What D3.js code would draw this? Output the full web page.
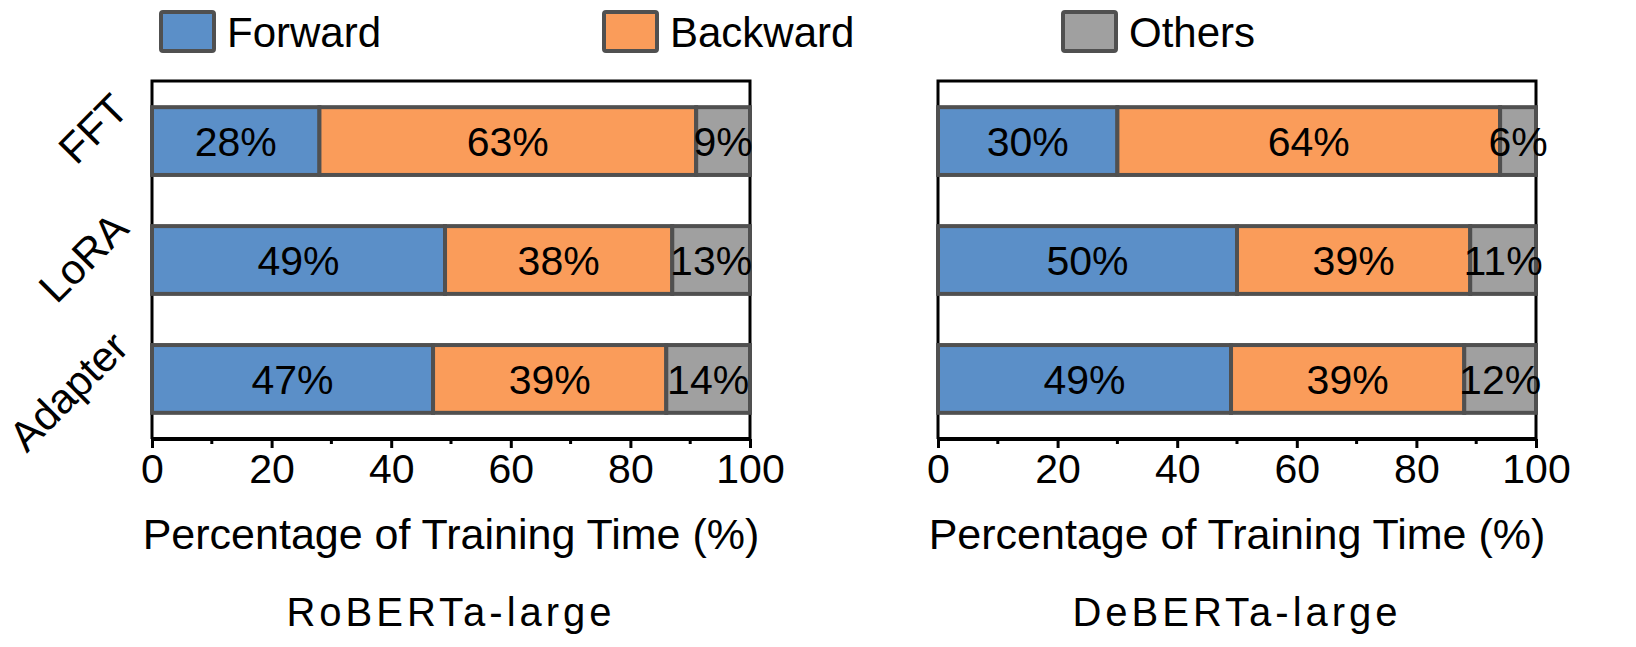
<!DOCTYPE html>
<html>
<head>
<meta charset="utf-8">
<script src="https://cdn.jsdelivr.net/npm/d3@7"></script>
<style>
  body { margin: 0; background: #fff; }
  text { font-family: "Liberation Sans", Arial, sans-serif; fill: #000; }
</style>
</head>
<body>
<div id="chart"></div>
<script>
var methods = ["FFT", "LoRA", "Adapter"];
var parts = ["Forward", "Backward", "Others"];
var colors = ["#5B8FC8", "#FA9C5A", "#A0A0A0"];
var models = ["RoBERTa-large", "DeBERTa-large"];

var robertaForward = [28, 49, 47];
var robertaBackward = [63, 38, 39];
var robertaOthers = [9, 13, 14];

var debertaForward = [30, 50, 49];
var debertaBackward = [64, 39, 39];
var debertaOthers = [6, 11, 12];

var xTicks = [0, 20, 40, 60, 80, 100];
var xMinor = [10, 30, 50, 70, 90];

//////////////////////////////////////////////////////////////////////////////

var width = 1636, height = 647;
var plotTop = 81, plotBottom = 439;

var svg = d3.select("#chart").append("svg")
    .attr("width", width)
    .attr("height", height);

var yRange = d3.scaleBand()
    .domain(methods)
    .range([plotTop, plotBottom])
    .paddingInner(0.43)
    .paddingOuter(0.22);

function rowsFor(f, b, o) {
  return methods.map(function(m, i){ return { method: m, values: [f[i], b[i], o[i]] }; });
}

var panels = [
  { name: models[0], x0: 152, x1: 750, rows: rowsFor(robertaForward, robertaBackward, robertaOthers), yLabels: true },
  { name: models[1], x0: 938, x1: 1536, rows: rowsFor(debertaForward, debertaBackward, debertaOthers), yLabels: false }
];

panels.forEach(function(p) {

  var xRange = d3.scaleLinear().domain([0, 100]).range([p.x0, p.x1]);
  var g = svg.append("g");

  // frame (left, top, right)
  g.append("path")
      .attr("d", "M" + p.x0 + "," + plotBottom + "V" + plotTop + "H" + p.x1 + "V" + plotBottom)
      .attr("fill", "none")
      .attr("stroke", "#000")
      .attr("stroke-width", 3);

  // stacked segments
  p.rows.forEach(function(r) {
    var acc = 0;
    var segs = r.values.map(function(v, i){
      var s = { start: acc, end: acc + v, value: v, i: i };
      acc += v;
      return s;
    });

    g.selectAll(null)
        .data(segs)
        .enter().append("rect")
        .attr("x", function(d){ return xRange(d.start); })
        .attr("y", yRange(r.method))
        .attr("width", function(d){ return xRange(d.end) - xRange(d.start); })
        .attr("height", yRange.bandwidth())
        .attr("fill", function(d){ return colors[d.i]; })
        .attr("stroke", "#505050")
        .attr("stroke-width", 4);

    g.selectAll(null)
        .data(segs)
        .enter().append("text")
        .attr("x", function(d){ return (xRange(d.start) + xRange(d.end)) / 2; })
        .attr("y", yRange(r.method) + yRange.bandwidth() / 2)
        .attr("dy", "0.36em")
        .attr("text-anchor", "middle")
        .style("font-size", "41px")
        .text(function(d){ return d.value + "%"; });
  });

  // bottom axis
  var xAxis = d3.axisBottom(xRange).tickValues(xTicks).tickSize(9).tickPadding(6);
  var ax = svg.append("g")
      .attr("transform", "translate(0," + plotBottom + ")")
      .call(xAxis);
  ax.select(".domain").attr("stroke", "#000").attr("stroke-width", 4)
      .attr("d", "M" + p.x0 + ",0H" + p.x1);
  ax.selectAll(".tick line").attr("stroke", "#000").attr("stroke-width", 3);
  ax.selectAll(".tick text")
      .style("font-size", "41px")
      .style("font-family", "'Liberation Sans', Arial, sans-serif")
      .attr("fill", "#000");

  ax.selectAll(".minor")
      .data(xMinor)
      .enter().append("line")
      .attr("class", "minor")
      .attr("x1", function(d){ return xRange(d); })
      .attr("x2", function(d){ return xRange(d); })
      .attr("y1", 0)
      .attr("y2", 5)
      .attr("stroke", "#000")
      .attr("stroke-width", 3);

  svg.append("text")
      .attr("x", (p.x0 + p.x1) / 2)
      .attr("y", 549)
      .attr("text-anchor", "middle")
      .style("font-size", "43px")
      .text("Percentage of Training Time (%)");

  svg.append("text")
      .attr("x", (p.x0 + p.x1) / 2)
      .attr("y", 626)
      .attr("text-anchor", "middle")
      .style("font-size", "40px")
      .style("letter-spacing", "4px")
      .text(p.name);

  if (p.yLabels) {
    methods.forEach(function(m) {
      var cx = p.x0 - 32, cy = yRange(m) + yRange.bandwidth() / 2 - 40;
      svg.append("text")
          .attr("transform", "translate(" + cx + "," + cy + ") rotate(-45)")
          .attr("text-anchor", "end")
          .attr("dy", "0.36em")
          .style("font-size", "42px")
          .text(m);
    });
  }
});

// legend
var legendX = [159, 602, 1061];
var lg = svg.selectAll(".legend")
    .data(parts)
    .enter().append("g")
    .attr("class", "legend")
    .attr("transform", function(d, i){ return "translate(" + legendX[i] + ",10)"; });

lg.append("rect")
    .attr("x", 2).attr("y", 2)
    .attr("width", 53).attr("height", 39)
    .attr("rx", 2)
    .attr("fill", function(d, i){ return colors[i]; })
    .attr("stroke", "#505050")
    .attr("stroke-width", 4);

lg.append("text")
    .attr("x", 68)
    .attr("y", 37)
    .style("font-size", "42px")
    .text(function(d){ return d; });
</script>
</body>
</html>
